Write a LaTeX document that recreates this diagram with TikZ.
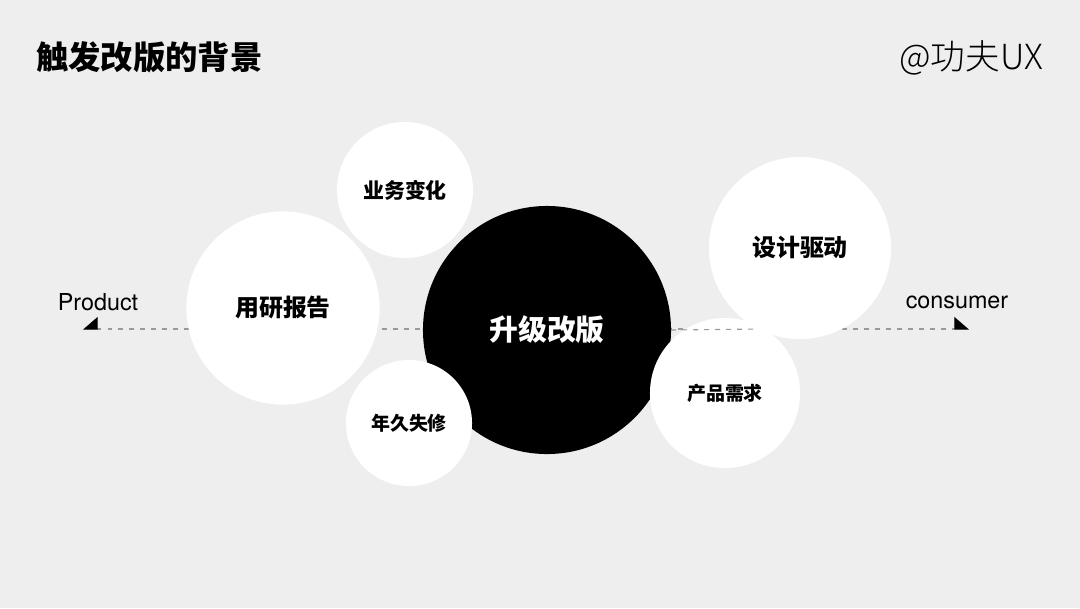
\documentclass[tikz,border=0pt]{standalone}
\usepackage{xcolor}
\definecolor{bggray}{HTML}{EEEEEE}
\definecolor{axisgray}{HTML}{999999}
\usepackage{fontspec}
\setmainfont{TeX Gyre Heros}
\newfontfamily\cjk{Noto Sans CJK SC}
\newfontfamily\cjklight{Noto Sans CJK SC Light}
\usepackage{tikz}
\usetikzlibrary{arrows.meta}

\tikzset{
    bubble/.style={circle, fill=white, inner sep=0pt, font=\cjk\bfseries},
    axis/.style={axisgray, line width=0.8pt, dash pattern=on 3.5pt off 4.3pt},
}

\begin{document}
\begin{tikzpicture}[x=0.025cm, y=-0.025cm]
                        \fill[bggray] (0, 0) rectangle (1080, 608);

                        % heading
                        \node (title) at (36, 57) [anchor=west, inner sep=0pt] {\cjk\bfseries\fontsize{23}{26}\selectfont 触发改版的背景};
                        \node (brand) at (1043, 58) [anchor=east, inner sep=0pt] {\cjklight\fontsize{24.6}{28}\selectfont @功夫UX};

                        % axis from product to consumer
                        \node (product) at (98, 302) {\fontsize{16.6}{19}\selectfont Product};
                        \node (consumer) at (957, 302) {\fontsize{16.6}{19}\selectfont consumer};
                        \coordinate (ptip) at (83, 329);
                        \coordinate (ctip) at (969, 329);
                        \draw[axis, {Triangle[right, length=3.5mm, width=6mm, black]}-{Triangle[left, length=3.5mm, width=6mm, black]}] (ptip) to (ctip);

                        % bubbles
                        \node (change) at (405, 190) [bubble, minimum size=3.4cm] {\fontsize{14.9}{18}\selectfont 业务变化};
                        \node (research) at (283, 308) [bubble, minimum size=4.83cm] {\fontsize{17}{20}\selectfont 用研报告};
                        \node (upgrade) at (547, 330) [bubble, fill=black, text=white, minimum size=6.2cm] {\fontsize{20.5}{24}\selectfont 升级改版};
                        \node (aging) at (409, 423) [bubble, minimum size=3.15cm] {\fontsize{13.5}{16}\selectfont 年久失修};
                        \node (demand) at (725, 393) [bubble, minimum size=3.75cm] {\fontsize{13.5}{16}\selectfont 产品需求};
                        \draw[axis] (upgrade.east) to (759, 329);
                        \node (design) at (800, 248) [bubble, minimum size=4.55cm] {\fontsize{17}{20}\selectfont 设计驱动};
                    \end{tikzpicture}
\end{document}
